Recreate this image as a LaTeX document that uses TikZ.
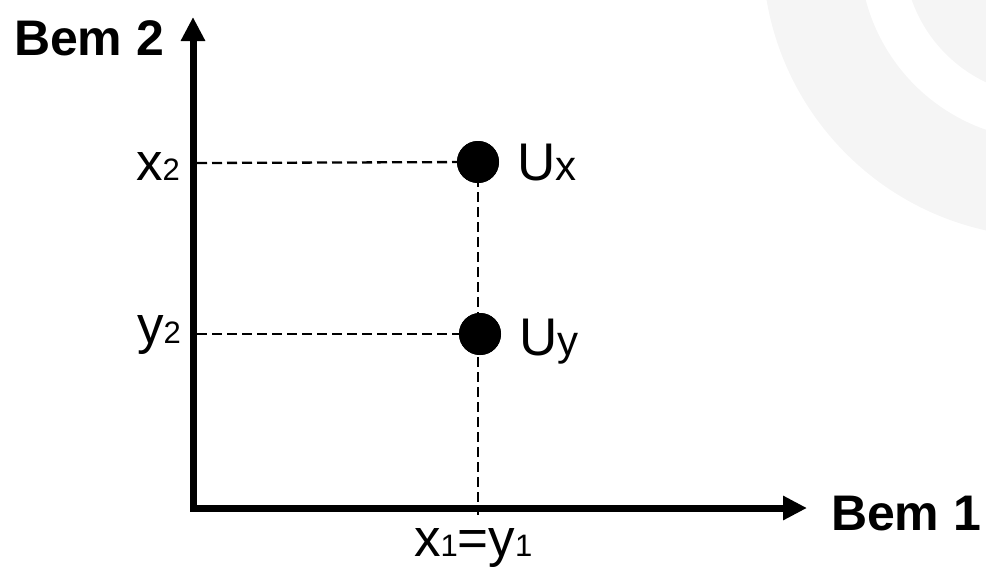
\documentclass[tikz,border=0pt]{standalone}
\usepackage{fontspec}
\setmainfont{Liberation Sans}
\usetikzlibrary{arrows.meta}
\newcommand{\bigtxt}{\fontsize{53}{53}\selectfont}
\newcommand{\subtxt}{\fontsize{31}{31}\selectfont}
\newcommand{\midtxt}{\fontsize{42}{42}\selectfont}
\newcommand{\boldtxt}{\fontsize{50}{50}\selectfont\bfseries}
\definecolor{bgarc}{RGB}{245,245,245}
\tikzset{
  axisline/.style={line width=7pt, line join=miter, {Triangle[length=24pt,width=23pt]}-{Triangle[length=24pt,width=23pt]}},
  guide/.style={line width=2.3pt, dash pattern=on 10pt off 5pt},
  dot/.style={circle, fill=black, minimum size=42pt, inner sep=0pt},
  lbl/.style={anchor=base west, inner sep=0pt, outer sep=0pt},
}
\begin{document}
\begin{tikzpicture}[x=1pt,y=-1pt]
\useasboundingbox (0,0) rectangle (986,568);
% faint background arcs
\begin{scope}
\clip (0,0) rectangle (986,568);
\fill[bgarc, even odd rule] (1047.6,-47.9) circle[radius=285] (1047.6,-47.9) circle[radius=188];
\fill[bgarc] (1047.6,-47.9) circle[radius=144];
\end{scope}
% coordinates
\coordinate (ytip) at (193,17);
\coordinate (orig) at (193,508);
\coordinate (xtip) at (807,508);
\coordinate (ax2) at (197,163);
\coordinate (ay2) at (197,334);
\coordinate (foot) at (478,515);
% dots
\node[dot] (ux) at (478,162) {};
\node[dot] (uy) at (480,334) {};
% guides
\draw[guide] (ax2) -- (ux.center);
\draw[guide] (ay2) -- (uy.center);
\draw[guide] (ux.center) -- (foot);
\node[dot] at (ux.center) {};
\node[dot] at (uy.center) {};
% axes
\draw[axisline] (ytip) -- (orig) -- (xtip);
% labels
\node[lbl] (lx2) at (136,180) {\bigtxt x\subtxt 2};
\node[lbl] (ly2) at (137,343) {\bigtxt y\subtxt 2};
\node[lbl] (lux) at (517,180) {\bigtxt U\midtxt x};
\node[lbl] (luy) at (519,355) {\bigtxt U\midtxt y};
\node[lbl] (lx1) at (414,556) {\bigtxt x\subtxt 1\bigtxt =y\subtxt 1};
\node[lbl] (b2) at (14,55) {\boldtxt Bem 2};
\node[lbl] (b1) at (831,530) {\boldtxt Bem 1};
\end{tikzpicture}
\end{document}
